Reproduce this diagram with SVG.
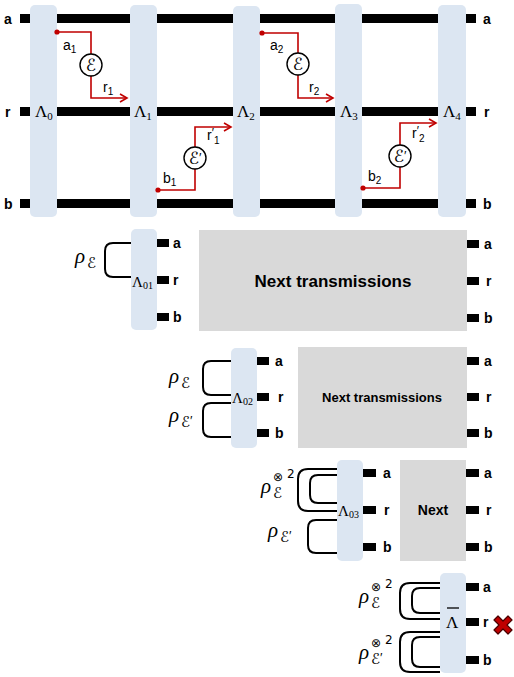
<svg xmlns="http://www.w3.org/2000/svg" width="514" height="677" viewBox="0 0 514 677">
<defs>
<style>
.col{fill:#dce6f2}
.wire{fill:#000}
.grey{fill:#d9d9d9}
.lbl{font-family:"Liberation Sans",Arial,sans-serif;font-weight:bold;font-size:14px;fill:#000}
.big{font-family:"Liberation Sans",Arial,sans-serif;font-weight:bold;fill:#000;text-anchor:middle}
.red{fill:none;stroke:#c00000;stroke-width:1.6}
.dot{fill:#c00000}
.circ{fill:#fff;stroke:#000;stroke-width:1.4}
.sym{font-family:"DejaVu Sans",sans-serif;font-size:17px;fill:#000;text-anchor:middle}
.sm{font-family:"Liberation Sans",Arial,sans-serif;font-size:14px;fill:#000}
.smsub{font-size:10px}
.pr{font-family:"Liberation Sans",Arial,sans-serif;font-size:12px}
.prm{font-family:"Liberation Sans",Arial,sans-serif;font-size:13px}
.lam{font-family:"Liberation Serif","DejaVu Serif",serif;font-size:17px;fill:#000}
.lsub{font-size:11px}
.rho{font-family:"Liberation Serif","DejaVu Serif",serif;font-style:italic;font-size:21px;fill:#000}
.rsub{font-family:"DejaVu Sans",sans-serif;font-size:15px;fill:#000}
.rsup{font-family:"DejaVu Sans","Liberation Sans",sans-serif;font-size:12px;fill:#000}
.loop{fill:none;stroke:#000;stroke-width:2}
.x{fill:#c00000;stroke:#4a0000;stroke-width:1.2;stroke-linejoin:round}
</style>
<marker id="arr" markerWidth="10" markerHeight="10" refX="8" refY="5" orient="auto" markerUnits="userSpaceOnUse">
<path d="M1,1 L8,5 L1,9" fill="none" stroke="#c00000" stroke-width="1.6"/>
</marker>
</defs>
<rect width="514" height="677" fill="#fff"/>

<!-- top section wires -->
<g id="wires-top">
<rect class="wire" x="20" y="14" width="456" height="9"/>
<rect class="wire" x="20" y="107" width="456" height="9"/>
<rect class="wire" x="20" y="199" width="456" height="9"/>
<text class="lbl" x="4" y="24">a</text>
<text class="lbl" x="5" y="117">r</text>
<text class="lbl" x="4" y="209">b</text>
<text class="lbl" x="483" y="24">a</text>
<text class="lbl" x="484" y="117">r</text>
<text class="lbl" x="483" y="209">b</text>
</g>

<g id="L0"><rect class="col" x="30" y="5" width="27" height="212" rx="5"/><text class="lam" x="35" y="117">Λ<tspan class="lsub" dy="3">0</tspan></text></g>
<g id="L1"><rect class="col" x="130" y="5" width="27" height="212" rx="5"/><text class="lam" x="134" y="117">Λ<tspan class="lsub" dy="3">1</tspan></text></g>
<g id="L2"><rect class="col" x="233" y="6" width="27" height="211" rx="5"/><text class="lam" x="237" y="117">Λ<tspan class="lsub" dy="3">2</tspan></text></g>
<g id="L3"><rect class="col" x="335" y="4" width="27" height="213" rx="5"/><text class="lam" x="340" y="117">Λ<tspan class="lsub" dy="3">3</tspan></text></g>
<g id="L4"><rect class="col" x="438" y="5" width="28" height="212" rx="5"/><text class="lam" x="443" y="117">Λ<tspan class="lsub" dy="3">4</tspan></text></g>

<g id="connectors">
<path class="red" d="M57,32 H91 V98 H127" marker-end="url(#arr)"/>
<circle class="dot" cx="57" cy="32" r="2.6"/>
<path class="red" d="M158,190 H195 V127 H231" marker-end="url(#arr)"/>
<circle class="dot" cx="158" cy="190" r="2.6"/>
<path class="red" d="M262,33 H298 V98 H333" marker-end="url(#arr)"/>
<circle class="dot" cx="262" cy="33" r="2.6"/>
<path class="red" d="M363,188 H400 V123 H436" marker-end="url(#arr)"/>
<circle class="dot" cx="363" cy="188" r="2.6"/>
</g>

<g id="E1"><circle class="circ" cx="91" cy="65" r="11"/><text class="sym" x="91" y="71">ℰ</text></g>
<g id="E1p"><circle class="circ" cx="195" cy="158" r="11"/><text class="sym" x="195" y="164">ℰ<tspan class="prm" dy="-2">′</tspan></text></g>
<g id="E2"><circle class="circ" cx="298" cy="64" r="11"/><text class="sym" x="298" y="70">ℰ</text></g>
<g id="E2p"><circle class="circ" cx="400" cy="156" r="11"/><text class="sym" x="400" y="162">ℰ<tspan class="prm" dy="-2">′</tspan></text></g>

<g id="tlabels">
<text class="sm" x="63" y="50">a<tspan class="smsub" dy="3">1</tspan></text>
<text class="sm" x="103" y="92">r<tspan class="smsub" dy="3">1</tspan></text>
<text class="sm" x="163" y="183">b<tspan class="smsub" dy="3">1</tspan></text>
<text class="sm" x="207" y="140">r<tspan class="pr" dy="-3">′</tspan><tspan class="smsub" dy="7">1</tspan></text>
<text class="sm" x="270" y="50">a<tspan class="smsub" dy="3">2</tspan></text>
<text class="sm" x="309" y="92">r<tspan class="smsub" dy="3">2</tspan></text>
<text class="sm" x="368" y="181">b<tspan class="smsub" dy="3">2</tspan></text>
<text class="sm" x="412" y="138">r<tspan class="pr" dy="-3">′</tspan><tspan class="smsub" dy="7">2</tspan></text>
</g>

<!-- section 1 -->
<g id="L01">
<rect class="col" x="131" y="229" width="26" height="101" rx="5"/>
<rect class="wire" x="157" y="239" width="12" height="8"/>
<rect class="wire" x="157" y="276" width="12" height="8"/>
<rect class="wire" x="157" y="313" width="12" height="8"/>
<text class="lbl" x="173" y="248">a</text>
<text class="lbl" x="173" y="285">r</text>
<text class="lbl" x="173" y="322">b</text>
<path class="loop" d="M131,243 H113 Q105,243 105,251 V269 Q105,277 113,277 H131"/>
<text class="rho" x="75" y="263">ρ</text><text class="rsub" x="87" y="268">ℰ</text>
<text class="lam" x="132" y="287" style="font-size:15px">Λ<tspan class="lsub" dy="2" style="font-size:10px">01</tspan></text>
</g>
<g id="Next1">
<rect class="grey" x="199" y="230" width="268" height="101"/>
<text class="big" x="333" y="287" style="font-size:17px">Next transmissions</text>
<rect class="wire" x="467" y="240" width="12" height="8"/>
<rect class="wire" x="467" y="277" width="12" height="8"/>
<rect class="wire" x="467" y="314" width="12" height="8"/>
<text class="lbl" x="484" y="249">a</text>
<text class="lbl" x="486" y="286">r</text>
<text class="lbl" x="484" y="323">b</text>
</g>

<!-- section 2 -->
<g id="L02">
<rect class="col" x="231" y="348" width="26" height="100" rx="5"/>
<rect class="wire" x="257" y="357" width="12" height="8"/>
<rect class="wire" x="257" y="393" width="12" height="8"/>
<rect class="wire" x="257" y="429" width="12" height="8"/>
<text class="lbl" x="275" y="366">a</text>
<text class="lbl" x="278" y="402">r</text>
<text class="lbl" x="275" y="438">b</text>
<path class="loop" d="M231,361 H211 Q203,361 203,369 V387 Q203,395 211,395 H231"/>
<path class="loop" d="M231,403 H211 Q203,403 203,411 V429 Q203,437 211,437 H231"/>
<text class="rho" x="169" y="383">ρ</text><text class="rsub" x="181" y="388">ℰ</text>
<text class="rho" x="169" y="422">ρ</text><text class="rsub" x="181" y="427">ℰ<tspan class="prm" dy="-2">′</tspan></text>
<text class="lam" x="232" y="403" style="font-size:15px">Λ<tspan class="lsub" dy="2" style="font-size:10px">02</tspan></text>
</g>
<g id="Next2">
<rect class="grey" x="298" y="347" width="169" height="101"/>
<text class="big" x="382" y="402" style="font-size:13px">Next transmissions</text>
<rect class="wire" x="467" y="357" width="12" height="8"/>
<rect class="wire" x="467" y="393" width="12" height="8"/>
<rect class="wire" x="467" y="429" width="12" height="8"/>
<text class="lbl" x="484" y="366">a</text>
<text class="lbl" x="486" y="402">r</text>
<text class="lbl" x="484" y="438">b</text>
</g>

<!-- section 3 -->
<g id="L03">
<rect class="col" x="337" y="460" width="26" height="101" rx="5"/>
<rect class="wire" x="363" y="469" width="13" height="8"/>
<rect class="wire" x="363" y="506" width="13" height="8"/>
<rect class="wire" x="363" y="543" width="13" height="8"/>
<text class="lbl" x="383" y="478">a</text>
<text class="lbl" x="384" y="515">r</text>
<text class="lbl" x="383" y="552">b</text>
<path class="loop" d="M337,469 H308 Q298,469 298,479 V501 Q298,511 308,511 H337"/>
<path class="loop" d="M337,475 H318 Q310,475 310,483 V495 Q310,503 318,503 H337"/>
<path class="loop" d="M337,520 H316 Q308,520 308,528 V545 Q308,553 316,553 H337"/>
<text class="rho" x="261" y="493">ρ</text><text class="rsub" x="273" y="498">ℰ</text><text class="rsup" x="273" y="481">⊗</text><text class="rsup" x="287" y="478">2</text>
<text class="rho" x="268" y="537">ρ</text><text class="rsub" x="280" y="542">ℰ<tspan class="prm" dy="-2">′</tspan></text>
<text class="lam" x="338" y="516" style="font-size:15px">Λ<tspan class="lsub" dy="2" style="font-size:10px">03</tspan></text>
</g>
<g id="Next3">
<rect class="grey" x="400" y="460" width="66" height="101"/>
<text class="big" x="433" y="515" style="font-size:14px">Next</text>
<rect class="wire" x="466" y="469" width="13" height="8"/>
<rect class="wire" x="466" y="506" width="13" height="8"/>
<rect class="wire" x="466" y="543" width="13" height="8"/>
<text class="lbl" x="484" y="478">a</text>
<text class="lbl" x="486" y="515">r</text>
<text class="lbl" x="484" y="552">b</text>
</g>

<!-- section 4 -->
<g id="Lbar">
<rect class="col" x="440" y="573" width="26" height="100" rx="5"/>
<rect class="wire" x="466" y="583" width="13" height="8"/>
<rect class="wire" x="466" y="618" width="13" height="8"/>
<rect class="wire" x="466" y="656" width="13" height="8"/>
<text class="lbl" x="483" y="592">a</text>
<text class="lbl" x="483" y="627">r</text>
<text class="lbl" x="483" y="665">b</text>
<path class="loop" d="M440,583 H410 Q400,583 400,593 V609 Q400,619 410,619 H440"/>
<path class="loop" d="M440,588 H420 Q412,588 412,596 V605 Q412,613 420,613 H440"/>
<path class="loop" d="M440,632 H410 Q400,632 400,642 V662 Q400,672 410,672 H440"/>
<path class="loop" d="M440,637 H420 Q412,637 412,645 V659 Q412,667 420,667 H440"/>
<text class="rho" x="359" y="603">ρ</text><text class="rsub" x="371" y="608">ℰ</text><text class="rsup" x="371" y="591">⊗</text><text class="rsup" x="385" y="588">2</text>
<text class="rho" x="359" y="659">ρ</text><text class="rsub" x="371" y="664">ℰ<tspan class="prm" dy="-2">′</tspan></text><text class="rsup" x="371" y="647">⊗</text><text class="rsup" x="385" y="644">2</text>
<text class="lam" x="446" y="628">Λ</text>
<line x1="447" y1="608" x2="459" y2="608" stroke="#000" stroke-width="1.3"/>
<polygon class="x" points="494,620 498,616 503,621 508,616 512,620 507,625 512,630 508,634 503,629 498,634 494,630 499,625"/>
</g>
</svg>
